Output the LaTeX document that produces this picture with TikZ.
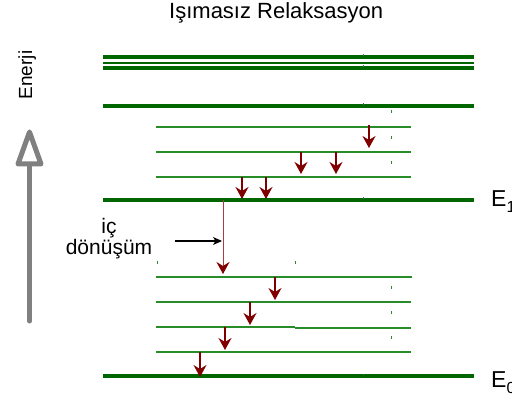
\documentclass[tikz,border=0pt]{standalone}
\usepackage{fontspec}
\setmainfont{Liberation Sans}
\usetikzlibrary{arrows.meta}
\definecolor{dkgreen}{RGB}{0,102,0}
\definecolor{ltgreen}{RGB}{40,140,40}
\definecolor{dkred}{RGB}{128,0,0}
\definecolor{shaftred}{RGB}{170,60,70}
\definecolor{agray}{RGB}{128,128,128}
\definecolor{speckblue}{RGB}{60,110,140}
\begin{document}
\begin{tikzpicture}[x=1pt,y=-1pt,
  thicklevel/.style={draw=dkgreen, line width=4pt},
  thinlevel/.style={draw=ltgreen, line width=2.2pt},
  relax/.style={draw=dkred, line width=1.1pt, -{Stealth[length=12pt,width=13pt,inset=4pt,color=dkred]}},
  pointer/.style={draw=black, line width=1.1pt, -{Stealth[length=9pt,width=8pt,inset=2.5pt]}},
  speck/.style={draw=ltgreen, line width=1pt},
  bspeck/.style={fill=speckblue},
  lbl/.style={inner sep=0pt, font=\fontsize{22}{22}\selectfont}
]
\useasboundingbox (0,0) rectangle (512,401);

% title
\node[lbl, anchor=base west] (title) at (169,19) {Işımasız Relaksasyon};

% energy axis
\node[inner sep=0pt, anchor=base, rotate=90, font=\fontsize{19}{19}\selectfont] (enerji) at (32,75) {Enerji};
\coordinate (axbot) at (29.5,321);
\coordinate (axtop) at (29.5,164);
\coordinate (tip) at (29.5,132);
\coordinate (hl) at (18,164);
\coordinate (hr) at (41,164);
\draw[agray, line width=5pt, line cap=round] (axbot) -- (axtop);
\draw[agray, line width=5pt, line join=round, fill=white] (tip) -- (hr) -- (hl) -- cycle;

% thick levels
\draw[thicklevel] (103,57.5) -- (474,57.5);
\draw[thicklevel, line width=2.5pt] (103,63.2) -- (474,63.2);
\draw[thicklevel] (103,68) -- (474,68);
\draw[thicklevel] (103,106) -- (474,106);
\draw[thicklevel] (103,200) coordinate (e1l) -- (474,200) coordinate (e1r);
\draw[thicklevel] (103,376) coordinate (e0l) -- (474,376) coordinate (e0r);

% thin levels
\draw[thinlevel] (156,127) -- (411,127);
\draw[thinlevel] (156,152) -- (411,152);
\draw[thinlevel] (156,177) -- (411,177);
\draw[thinlevel] (156,277) -- (412,277);
\draw[thinlevel] (156,302) -- (411,302);
\draw[thinlevel] (156,327) -- (295,327);
\draw[thinlevel] (295,328) -- (411,328);
\draw[thinlevel] (156,352) -- (411,352);

% specks
\foreach \p in {(391,110),(391,136),(391,161),(157,261),(295,261),(391,286),(391,311),(391,336)}
  \draw[speck] \p -- ++(0,3);
\foreach \yy in {56,67,105,199,375}
  \fill[bspeck] (362.5,\yy) rectangle ++(1.5,-1.5);

% labels E1, E0
\node[lbl, anchor=base west, font=\fontsize{23}{23}\selectfont] (E1) at (491,207) {E\raisebox{-6pt}{\fontsize{16}{16}\selectfont 1}};
\node[lbl, anchor=base west, font=\fontsize{23}{23}\selectfont] (E0) at (491,387) {E\raisebox{-6pt}{\fontsize{16}{16}\selectfont 0}};

% internal conversion label
\node[lbl, align=center, font=\fontsize{21}{21}\selectfont] (ic) at (109,239) {iç\\dönüşüm};

% relaxation arrows
\coordinate (a1s) at (369,125); \coordinate (a1e) at (369,148);
\coordinate (a2s) at (301,152); \coordinate (a2e) at (301,174);
\coordinate (a3s) at (336,152); \coordinate (a3e) at (336,174);
\coordinate (a4s) at (242,177); \coordinate (a4e) at (242,199);
\coordinate (a5s) at (266,177); \coordinate (a5e) at (266,199);
\coordinate (bs) at (223,200); \coordinate (be) at (223,274);
\coordinate (b1s) at (275,277); \coordinate (b1e) at (275,300);
\coordinate (b2s) at (250,302); \coordinate (b2e) at (250,325);
\coordinate (b3s) at (225,327); \coordinate (b3e) at (225,350);
\coordinate (b4s) at (200,352); \coordinate (b4e) at (200,377);
\foreach \s/\e in {a1s/a1e,a2s/a2e,a3s/a3e,a4s/a4e,a5s/a5e,b1s/b1e,b2s/b2e,b3s/b3e,b4s/b4e}
  \draw[relax] (\s) -- (\e);
\draw[relax, draw=shaftred, line width=1pt] (bs) -- (be);

% pointer to internal conversion
\coordinate (ps) at (175,241);
\coordinate (pe) at (222,241);
\draw[pointer] (ps) -- (pe);
\end{tikzpicture}
\end{document}
